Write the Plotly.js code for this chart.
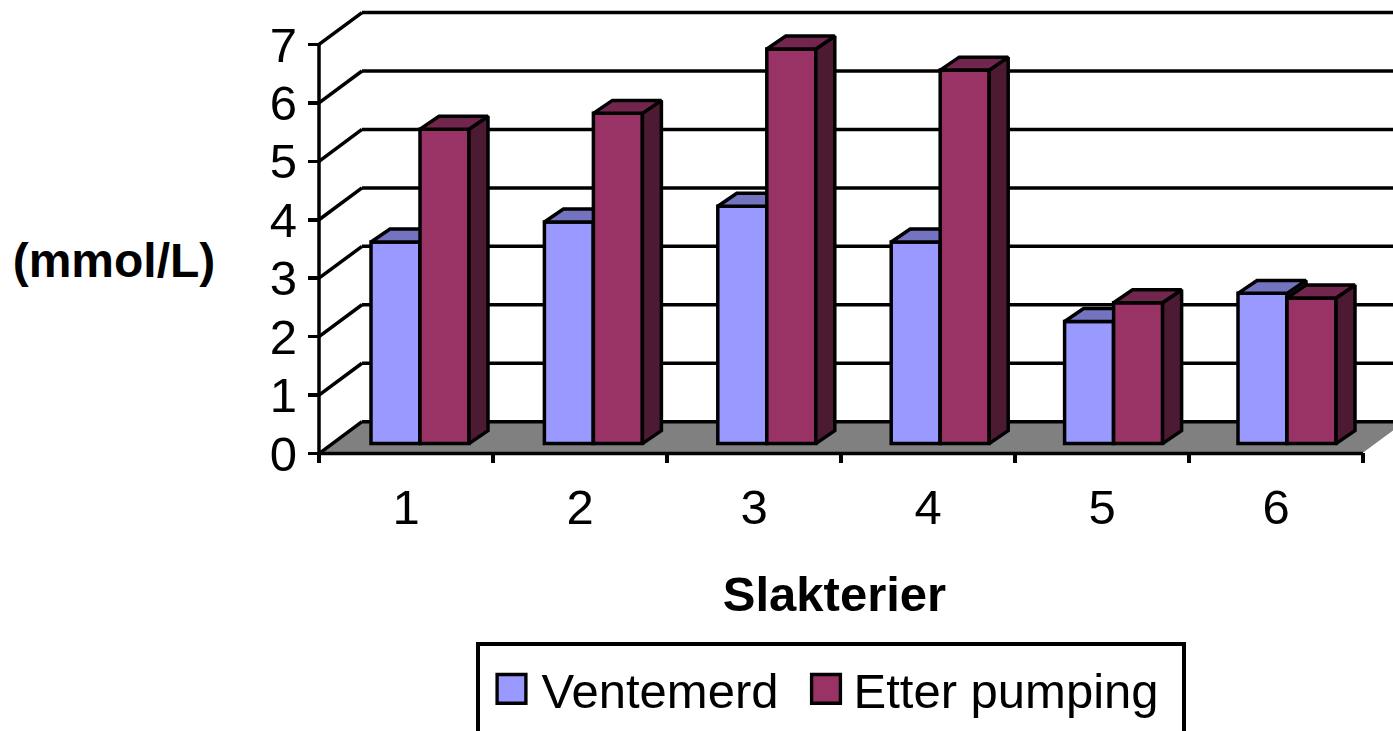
<!DOCTYPE html>
<html>
<head>
<meta charset="utf-8">
<script src="https://cdn.plot.ly/plotly-3.0.1.min.js"></script>
<style>
html,body{margin:0;padding:0;background:#fff;overflow:hidden}
#chart{width:1393px;height:731px}
.legend .legendpoints path{transform:translate(33px,0) scale(2.4);stroke-width:1.4px !important}
.legend .traces:nth-of-type(2) .legendpoints path{transform:translate(42.5px,0) scale(2.4)}
.legend .traces:nth-of-type(2) text.legendtext{transform:translateX(7px)}
.legend .scrollbox{clip-path:none !important}
.legend rect.bg{height:140px;width:706px;transform:translate(1px,-5px)}
.g-ytitle text{transform:translate(-88px,45px)}
.g-xtitle text{transform:translate(-16px,3px)}
</style>
</head>
<body>
<div id="chart"></div>
<script>
var groups = ['1','2','3','4','5','6'];
var ventemerd = [3.45,3.79,4.06,3.45,2.09,2.57];
var etterPumping = [5.38,5.65,6.75,6.39,2.41,2.49];
var yTicks = [0,1,2,3,4,5,6,7];
var nameA = 'Ventemerd', nameB = 'Etter pumping';

// Pseudo-3D geometry, in axis units
var PX = 174, PY = 58.7;
var wallDX = 43/PX, wallDY = 32/PY;
var barDX = 19/PX, barDY = 13/PY;
var barBase = 10/PY, barStart = 52/PX, step = 173.4/PX, barW = 49/PX;
var LW = 3.5, INK = '#000';

function barLeft(i, s){ return barStart + i*step + s*barW; }
function faces(vals, s){
  var top = {x:[],y:[]}, side = {x:[],y:[]};
  vals.forEach(function(v,i){
    var x0 = barLeft(i,s), x1 = x0+barW, t = barBase+v, b = barBase;
    top.x.push(x0,x1,x1+barDX,x0+barDX,x0,null);
    top.y.push(t,t,t+barDY,t+barDY,t,null);
    side.x.push(x1,x1+barDX,x1+barDX,x1,x1,null);
    side.y.push(b,b+barDY,t+barDY,t,b,null);
  });
  return {top:top, side:side};
}
function faceTrace(f, color, xa, ya){
  return {type:'scatter', mode:'lines', x:f.x, y:f.y, fill:'toself', fillcolor:color,
    line:{color:INK,width:LW}, xaxis:xa, yaxis:ya, hoverinfo:'skip', showlegend:false, cliponaxis:false};
}
function barTrace(vals, s, name, color, xa, ya){
  return {type:'bar', name:name, x:vals.map(function(v,i){return barLeft(i,s)+barW/2;}), y:vals,
    base:vals.map(function(){return barBase;}), width:barW, xaxis:xa, yaxis:ya,
    marker:{color:color, line:{color:INK,width:LW}}};
}
var fa = faces(ventemerd,0), fb = faces(etterPumping,1);
var traces = [
  barTrace(ventemerd,0,nameA,'#9999FF','x','y'),
  faceTrace(fa.side,'#4C4C7F','x','y'),
  faceTrace(fa.top,'#7373BF','x','y'),
  barTrace(etterPumping,1,nameB,'#993366','x2','y2'),
  faceTrace(fb.side,'#4D1A33','x2','y2'),
  faceTrace(fb.top,'#73264D','x2','y2')
];

var shapes = [];
function seg(x0,y0,x1,y1,color,w){
  shapes.push({type:'line',layer:'below',xref:'x',yref:'y',x0:x0,y0:y0,x1:x1,y1:y1,line:{color:color||INK,width:w||LW}});
}
var nG = groups.length, xEnd = (1393-319)/PX;
shapes.push({type:'path',layer:'below',xref:'x',yref:'y',fillcolor:'#808080',line:{width:0},
  path:'M0,0L'+nG+',0L'+(nG+wallDX)+','+wallDY+'L'+wallDX+','+wallDY+'Z'});
yTicks.forEach(function(k){
  seg(0,k,wallDX,k+wallDY);
  seg(wallDX,k+wallDY,xEnd,k+wallDY);
});
seg(0,0,nG,0);
seg(0,0,0,yTicks[yTicks.length-1]);
seg(nG,0,nG+wallDX,wallDY,'#fff',1.5);

var rangeX = [-11/PX, xEnd], rangeY = [-9.5/PY, 455.5/PY];
var fontA = {family:'Liberation Sans, Arial, sans-serif', size:49, color:'#000'};
var layout = {
  width:1393, height:731, paper_bgcolor:'#fff', plot_bgcolor:'rgba(0,0,0,0)',
  margin:{l:308,r:0,t:0,b:266,pad:0}, barmode:'overlay', font:fontA, showlegend:true,
  xaxis:{range:rangeX, tickmode:'array', tickvals:groups.map(function(g,i){return i+0.5;}), ticktext:groups,
    ticks:'', showgrid:false, zeroline:false, showline:false, tickfont:fontA, ticklabelstandoff:11,
    title:{text:'Slakterier', font:{family:fontA.family,size:49,color:'#000',weight:'bold'}, standoff:40}},
  yaxis:{range:rangeY, tickmode:'array', tickvals:yTicks, ticks:'inside', ticklen:11, tickwidth:LW, tickcolor:INK,
    showgrid:false, zeroline:false, showline:false, tickfont:fontA, ticklabelstandoff:10,
    title:{text:'(mmol/L)', font:{family:fontA.family,size:48,color:'#000',weight:'bold'}}},
  xaxis2:{overlaying:'x', anchor:'y2', side:'bottom', range:rangeX, tickmode:'array',
    tickvals:[0,1,2,3,4,5,6], ticks:'inside', ticklen:10, tickwidth:LW, tickcolor:INK,
    showticklabels:false, showgrid:false, zeroline:false, showline:false},
  yaxis2:{overlaying:'y', anchor:'x2', range:rangeY, showticklabels:false, ticks:'',
    showgrid:false, zeroline:false, showline:false},
  shapes:shapes,
  legend:{orientation:'h', x:(475-308)/1085, xanchor:'left', y:(465-650)/465, yanchor:'top',
    bgcolor:'#fff', bordercolor:INK, borderwidth:LW, font:fontA, itemwidth:53, traceorder:'normal',
    itemclick:false, itemdoubleclick:false}
};
Plotly.newPlot('chart', traces, layout, {displayModeBar:false, staticPlot:true});
</script>
</body>
</html>
